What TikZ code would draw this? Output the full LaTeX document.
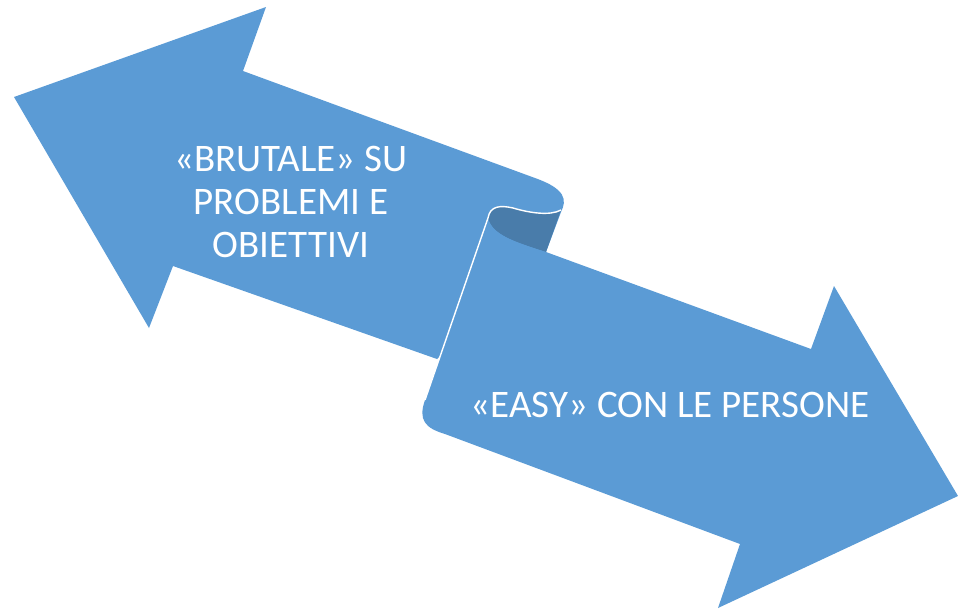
\documentclass[tikz,border=0pt]{standalone}
\usepackage{fontspec}
\setmainfont{Carlito}
\definecolor{arrowblue}{HTML}{5B9BD5}
\definecolor{folddark}{HTML}{497CAA}
\begin{document}
\begin{tikzpicture}
	[x=0.02cm,y=-0.02cm,
	piece/.style={fill=arrowblue},
	fold/.style={fill=folddark},
	edge/.style={draw=white,line width=0.8pt,line join=round},
	txt/.style={text=white,align=center,font=\fontsize{22.2}{24.4}\selectfont}]
	\useasboundingbox (0,0) rectangle (958,610);
	\fill[piece] (14,97) -- (266,7) -- (243,71) -- (535,178) .. controls (566,189) and (567,200) .. (561,212) -- (546,252) -- (437,359) -- (173,266) -- (149,328) -- cycle;
	\fill[fold] (488,218) .. controls (490,206) and (500,205) .. (513,208) .. controls (530,213) and (550,216) .. (561,210) -- (546,252) .. controls (515,242) and (492,235) .. (488,218) -- cycle;
	\fill[piece] (488,218) -- (425,400) .. controls (418,420) and (425,428) .. (445,434) -- (740,544) -- (718,608) -- (958,496) -- (834,286) -- (811,349) -- (546,252) .. controls (515,242) and (492,235) .. (488,218) -- cycle;
	\draw[edge] (425,400) -- (488,218) .. controls (490,206) and (500,205) .. (513,208) .. controls (530,213) and (550,216) .. (561,210);
	\node[txt,name=brutale] at (291,202) {«BRUTALE» SU\\PROBLEMI E\\OBIETTIVI};
	\node[txt,name=easy,anchor=base] at (670,417) {«EASY» CON LE PERSONE};
\end{tikzpicture}
\end{document}
